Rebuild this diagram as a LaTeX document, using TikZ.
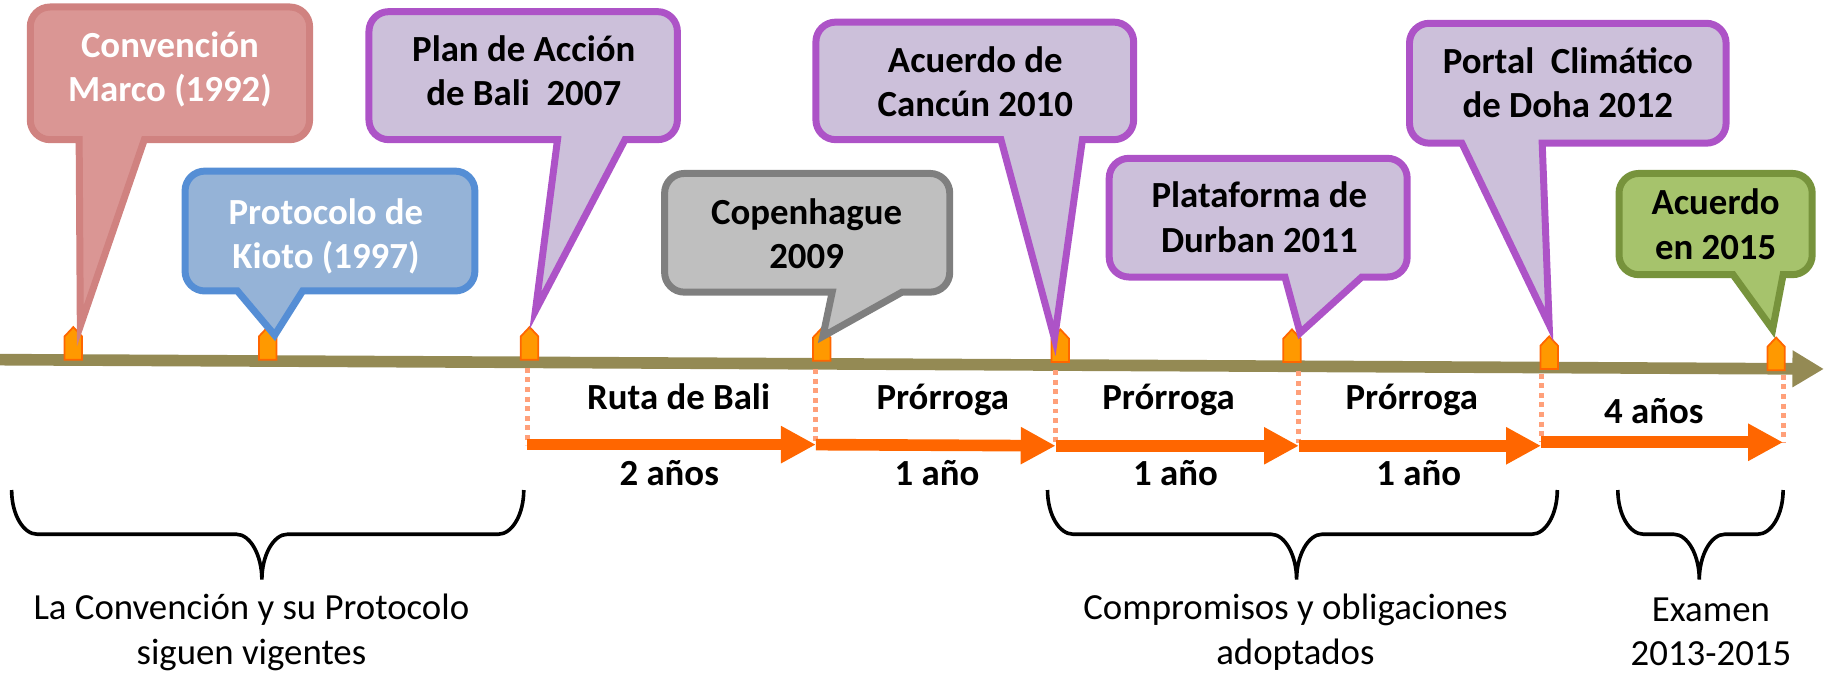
\documentclass[tikz,border=0pt]{standalone}
\usepackage{fontspec}
\setmainfont{Carlito}
\usetikzlibrary{arrows.meta}
\definecolor{pinkfill}{HTML}{DA9694}
\definecolor{pinkline}{HTML}{D08280}
\definecolor{bluefill}{HTML}{95B3D7}
\definecolor{blueline}{HTML}{558ED5}
\definecolor{purpfill}{HTML}{CCC0DA}
\definecolor{purpline}{HTML}{AD53C7}
\definecolor{grayfill}{HTML}{BFBFBF}
\definecolor{grayline}{HTML}{7F7F7F}
\definecolor{greenfill}{HTML}{A6C36C}
\definecolor{greenline}{HTML}{77933C}
\definecolor{mkfill}{HTML}{FF9900}
\definecolor{mkline}{HTML}{FF6600}
\definecolor{olivetl}{HTML}{948A54}
\definecolor{arrorange}{HTML}{FF6600}
\definecolor{dotorange}{HTML}{FFA07A}
\def\crad{17}
\def\cctl{7.6}
% #1 style, #2 x1, #3 y1, #4 x2, #5 y2, #6 base left, #7 base right, #8 tip x, #9 tip y
\newcommand\callout[9]{%
  \draw[#1] (#2+\crad,#3) -- (#4-\crad,#3)
    .. controls (#4-\cctl,#3) and (#4,#3+\cctl) .. (#4,#3+\crad)
    -- (#4,#5-\crad)
    .. controls (#4,#5-\cctl) and (#4-\cctl,#5) .. (#4-\crad,#5)
    -- (#7,#5) -- (#8,#9) -- (#6,#5)
    -- (#2+\crad,#5)
    .. controls (#2+\cctl,#5) and (#2,#5-\cctl) .. (#2,#5-\crad)
    -- (#2,#3+\crad)
    .. controls (#2,#3+\cctl) and (#2+\cctl,#3) .. (#2+\crad,#3) -- cycle;}
\newcommand\tlmarker[3]{%
  \coordinate (#1) at (#2,#3);
  \draw[markerstyle] (#2-7.5,#3) -- (#2-7.5,#3-20) -- (#2,#3-28) -- (#2+7.5,#3-20) -- (#2+7.5,#3) -- cycle;}
\newcommand\drawbrace[3]{%
  \draw[bracestyle] (#1,421) .. controls (#1,442) and (#1+10,459) .. (#1+22,459)
    -- (#3-22,459) .. controls (#3-10,459) and (#3,477) .. (#3,498)
    .. controls (#3,477) and (#3+10,459) .. (#3+22,459)
    -- (#2-22,459) .. controls (#2-10,459) and (#2,442) .. (#2,421);}
\tikzset{
  callbox/.style={line width=0.12cm, line join=miter},
  pinkbox/.style={callbox, fill=pinkfill, draw=pinkline},
  bluebox/.style={callbox, fill=bluefill, draw=blueline},
  purpbox/.style={callbox, fill=purpfill, draw=purpline},
  graybox/.style={callbox, fill=grayfill, draw=grayline},
  greenbox/.style={callbox, fill=greenfill, draw=greenline},
  markerstyle/.style={fill=mkfill, draw=mkline, line width=0.03cm, line join=miter},
  timeline/.style={draw=olivetl, line width=0.2cm, -{Triangle[length=0.54cm,width=0.6cm]}},
  period/.style={draw=arrorange, line width=0.2cm, -{Triangle[length=0.6cm,width=0.6cm]}},
  dotline/.style={draw=dotorange, line width=0.085cm, dash pattern=on 0.085cm off 0.08cm},
  bracestyle/.style={draw=black, line width=0.062cm},
  bold/.style={font=\fontsize{18}{21.6}\selectfont\bfseries, inner sep=0pt, align=center},
  wbold/.style={bold, text=white},
  plain/.style={font=\fontsize{18}{21.6}\selectfont, inner sep=0pt, align=center},
}
\begin{document}
\begin{tikzpicture}[x=0.02cm, y=-0.02cm]
\useasboundingbox (0,0) rectangle (1568,579);
% timeline
\coordinate (tl0) at (0,309);
\coordinate (tl1) at (1567,317);
\draw[timeline] (tl0) -- (tl1);
% markers
\tlmarker{m1}{63}{309}
\tlmarker{m2}{230}{309}
\tlmarker{m3}{455}{309}
\tlmarker{m4}{706}{310}
\tlmarker{m5}{911}{311}
\tlmarker{m6}{1110}{311}
\tlmarker{m7}{1331}{317}
\tlmarker{m8}{1526}{318}
% callouts
\callout{pinkbox}{26}{6}{266}{120}{68}{124}{69}{280}
\callout{bluebox}{159}{147}{408}{250}{204}{260}{236}{288}
\callout{purpbox}{317}{10}{582}{120}{479}{537}{460}{267}
\callout{graybox}{571}{149}{816}{251}{715}{775}{707}{289}
\callout{purpbox}{701}{19}{974}{120}{860}{930}{906}{291}
\callout{purpbox}{953}{136}{1209}{238}{1104}{1170}{1117}{286}
\callout{purpbox}{1211}{20}{1483}{123}{1256}{1325}{1331}{279}
\callout{greenbox}{1391}{149}{1557}{236}{1489}{1532}{1523}{283}
\node[wbold] (c1) at (146,60.4) {\strut Convención\\Marco (1992)\strut};
\node[wbold] (c2) at (280,204) {\strut Protocolo de\\Kioto (1997)\strut};
\node[bold] (c3) at (450,64) {\strut Plan de Acción\\de Bali~~2007\strut};
\node[bold] (c4) at (693,204.4) {\strut Copenhague\\2009\strut};
\node[bold] (c5) at (838,73.4) {\strut Acuerdo de\\Cancún 2010\strut};
\node[bold] (c6) at (1082,190) {\strut Plataforma de\\Durban 2011\strut};
\node[bold] (c7) at (1347,74.4) {\strut Portal~~Climático\\de Doha 2012\strut};
\node[bold] (c8) at (1474,196) {\strut Acuerdo\\en 2015\strut};
% dotted guides
\coordinate (d1a) at (453,316); \coordinate (d1b) at (453,382);
\coordinate (d2a) at (701,317); \coordinate (d2b) at (701,382);
\coordinate (d3a) at (907,318); \coordinate (d3b) at (907,383);
\coordinate (d4a) at (1116,319); \coordinate (d4b) at (1116,383);
\coordinate (d5a) at (1324,321); \coordinate (d5b) at (1324,380);
\coordinate (d6a) at (1532,322); \coordinate (d6b) at (1532,380);
\foreach \i in {1,...,6} {\draw[dotline] (d\i a) -- (d\i b);}
% period arrows
\coordinate (p1) at (453,382); \coordinate (p2) at (701,382);
\coordinate (p3) at (907,383); \coordinate (p4) at (1116,383);
\coordinate (p5) at (1324,380); \coordinate (p6) at (1532,380);
\draw[period] (p1) -- (p2);
\draw[period] (p2 -| d2a) -- (p3);
\draw[period] (p3) -- (p4);
\draw[period] (p4) -- (p4 -| d5a);
\draw[period] (p5) -- (p6);
% period labels
\node[bold, anchor=base] (l1) at (583,352) {Ruta de Bali};
\node[bold, anchor=base] (l2) at (810,352) {Prórroga};
\node[bold, anchor=base] (l3) at (1004,352) {Prórroga};
\node[bold, anchor=base] (l4) at (1213,352) {Prórroga};
\node[bold, anchor=base] (l5) at (1421,364) {4 años};
\node[bold, anchor=base] (u1) at (575,417) {2 años};
\node[bold, anchor=base] (u2) at (805,417) {1 año};
\node[bold, anchor=base] (u3) at (1010,417) {1 año};
\node[bold, anchor=base] (u4) at (1219,417) {1 año};
% braces
\drawbrace{10}{450}{225}
\drawbrace{900}{1338}{1114}
\drawbrace{1390}{1532}{1460}
\node[plain] (b1) at (216,544) {\strut La Convención y su Protocolo\\siguen vigentes\strut};
\node[plain] (b2) at (1113,544) {\strut Compromisos y obligaciones\\adoptados\strut};
\node[plain] (b3) at (1470,545) {\strut Examen\\2013-2015\strut};
\end{tikzpicture}
\end{document}
